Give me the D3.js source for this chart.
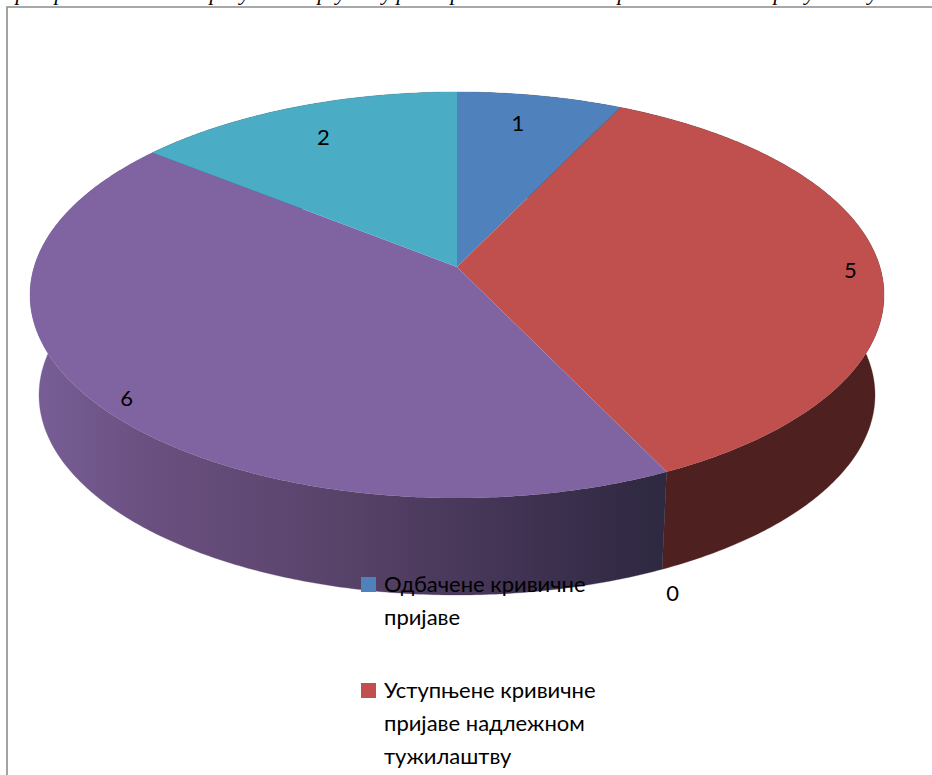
<!DOCTYPE html>
<html><head><meta charset="utf-8">
<script src="https://cdn.jsdelivr.net/npm/d3@7/dist/d3.min.js"></script>
<style>
html,body{margin:0;padding:0;background:#fff;overflow:hidden}
svg{display:block}
</style></head><body>
<svg id="c" width="932" height="775"></svg>
<script>
const categories = ["Одбачене кривичне пријаве","Уступњене кривичне пријаве надлежном тужилаштву","","",""];
const values = [1,5,0,6,2];
const topColors = ["#4f81bd","#c0504d","#9bbb59","#8064a2","#4bacc6"];
const legendLines = [["Одбачене кривичне","пријаве"],["Уступњене кривичне","пријаве надлежном","тужилаштву"]];
const clippedHeadingGlyphs = ["р","р","р","у","р","у","у","р","р","р","р","у","у"];

const W=932,H=775;
const svg=d3.select("#c");

// layout of the projected pie
const topE={cx:457,cy:295,rx:427,ry:203};
const botE={cx:457,cy:395,rx:418,ry:200};
const e=0.138;
function project(E,theta,r=1){
  const u=r*Math.sin(theta), v=-r*Math.cos(theta);
  const d=1-e*v;
  return [E.cx+E.rx*u*Math.sqrt(1-e*e)/d, E.cy+E.ry*(v-e)/d];
}
const arcs=d3.pie().sort(null).value(d=>d)(values);
const line=d3.line();
function samples(a){
  const n=Math.max(2,Math.ceil((a.endAngle-a.startAngle)/0.01));
  return d3.range(n+1).map(i=>a.startAngle+(a.endAngle-a.startAngle)*i/n);
}

// side gradient for the purple slice
const defs=svg.append("defs");
const g=defs.append("linearGradient").attr("id","sidePurple").attr("gradientUnits","userSpaceOnUse")
  .attr("x1",35).attr("x2",665).attr("y1",0).attr("y2",0);
[[0,"#775e96"],[0.18,"#6a5080"],[0.5,"#574268"],[0.8,"#3e3150"],[1,"#2e2840"]].forEach(s=>g.append("stop").attr("offset",s[0]).attr("stop-color",s[1]));
const sideFill=["#2a4260","url(#sidePurple)".replace("url(#sidePurple)","#4e201f"),"#4e201f","url(#sidePurple)","#26606e"];

// top clipped heading descenders
const glyphX=[21,60,215,245,323,341,387,402,456,623,779,810,873];
svg.append("g").selectAll("text").data(clippedHeadingGlyphs).join("text")
  .attr("x",(d,i)=>glyphX[i]).attr("y",0).attr("text-anchor","middle")
  .attr("font-family","'Liberation Serif'").attr("font-style","italic").attr("font-size",22).attr("fill","#000")
  .text(d=>d);

// frame
svg.append("path").attr("d",`M7 775V7H932`).attr("fill","none").attr("stroke","#8c8c8c").attr("stroke-width",1.6);

// sides
const sides=svg.append("g");
arcs.forEach((a,i)=>{
  if(a.endAngle-a.startAngle<=0) return;
  const ts=samples(a);
  const pts=ts.map(t=>project(topE,t)).concat(ts.slice().reverse().map(t=>project(botE,t)));
  sides.append("path").attr("d",line(pts)+"Z").attr("fill",sideFill[i]).attr("stroke",sideFill[i]).attr("stroke-width",0.3);
});
// tops
const tops=svg.append("g");
const apex=project(topE,0,0);
arcs.forEach((a,i)=>{
  if(a.endAngle-a.startAngle<=0) return;
  const pts=[apex].concat(samples(a).map(t=>project(topE,t)));
  tops.append("path").attr("d",line(pts)+"Z").attr("fill",topColors[i]);
});

// value labels
const labelPlace=[[.8,-7,-4],[.93,0,3],[1,6,121],[.92,0,6],[.8,0,0]];
const labelFont="Lato, Carlito, 'Open Sans', sans-serif";
svg.append("g").selectAll("text").data(arcs).join("text")
  .attr("x",(a,i)=>project(topE,(a.startAngle+a.endAngle)/2,labelPlace[i][0])[0]+labelPlace[i][1])
  .attr("y",(a,i)=>project(topE,(a.startAngle+a.endAngle)/2,labelPlace[i][0])[1]+labelPlace[i][2])
  .attr("text-anchor","middle").attr("dominant-baseline","central")
  .attr("font-family",labelFont).attr("font-size",22).attr("fill","#000")
  .text(a=>a.value);

// legend
const lg=svg.append("g");
const legendTop=[577,683];
legendLines.forEach((lines,i)=>{
  lg.append("rect").attr("x",361).attr("y",legendTop[i]).attr("width",15).attr("height",15).attr("fill",topColors[i]);
  lines.forEach((t,j)=>{
    lg.append("text").attr("x",384).attr("y",legendTop[i]+15+j*33.2)
      .attr("font-family",labelFont).attr("font-size",22).attr("fill","#000").text(t);
  });
});
</script>
</body></html>
